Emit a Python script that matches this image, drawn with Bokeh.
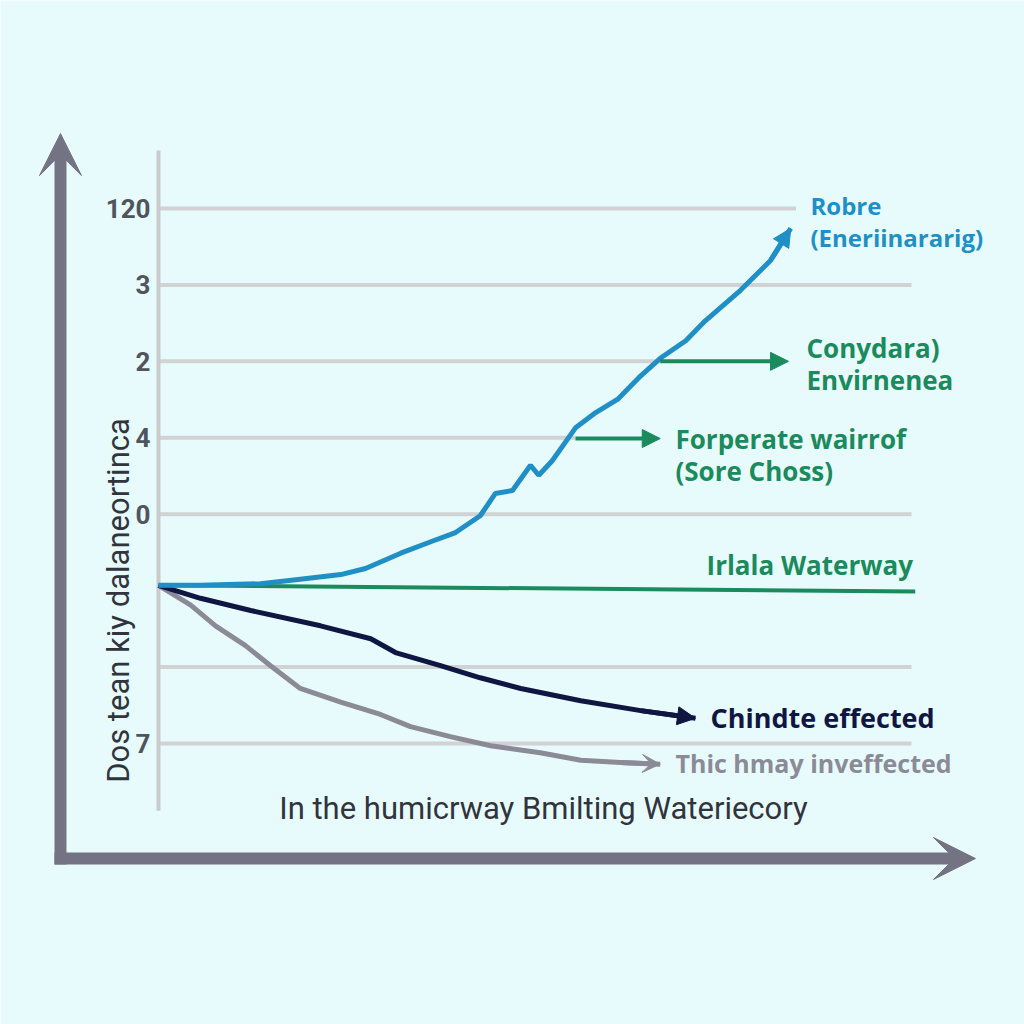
from bokeh.plotting import figure
from bokeh.models import Range1d, Arrow, NormalHead, VeeHead
from bokeh.core.properties import value
from bokeh.embed import file_html
from bokeh.resources import INLINE

# ---------------- data ----------------
tick_levels = [7, 6, 5, 4, 3, 1, 0]
tick_labels = ["120", "3", "2", "4", "0", "", "7"]
grid_levels = [7, 6, 5, 4, 3, 1, 0]
grid_ends = [8.5, 10.04, 6.69, 5.56, 10.04, 10.04, 10.04]

robre_t = [0, 0.56, 1.36, 1.89, 2.43, 2.76, 3.23, 3.63, 3.96, 4.29, 4.49, 4.72,
           4.96, 5.07, 5.25, 5.56, 5.83, 6.13, 6.43, 6.69, 7.03, 7.29, 7.76, 8.16, 8.43]
robre_v = [2.07, 2.07, 2.09, 2.15, 2.21, 2.29, 2.49, 2.64, 2.76, 2.98, 3.27, 3.31,
           3.64, 3.51, 3.70, 4.13, 4.33, 4.51, 4.81, 5.04, 5.27, 5.53, 5.93, 6.32, 6.74]

water_t = [0, 10.09]
water_v = [2.07, 1.99]

chind_t = [0, 0.56, 1.23, 2.16, 2.83, 3.16, 3.76, 4.29, 4.83, 5.63, 6.43, 7.16]
chind_v = [2.07, 1.90, 1.74, 1.54, 1.37, 1.19, 1.02, 0.86, 0.72, 0.56, 0.43, 0.33]

thic_t = [0, 0.43, 0.76, 1.16, 1.49, 1.89, 2.43, 2.96, 3.36, 3.89, 4.43, 5.09, 5.63, 6.16, 6.69]
thic_v = [2.07, 1.81, 1.54, 1.28, 1.02, 0.72, 0.54, 0.38, 0.22, 0.09, -0.03, -0.12, -0.22, -0.25, -0.27]

# green pointer arrows (level, start, end)
ptr_levels = [5.0, 3.99]
ptr_start = [6.69, 5.56]
ptr_end = [8.40, 6.69]

# ---------------- styling ----------------
BG = "#e8fbfc"
BLUE = "#1f8fc6"
GREEN = "#1b8a5c"
NAVY = "#0f1642"
GRAY = "#8b8b97"
AXIS = "#737383"
GRID = "#d0d2d3"
TXT = "#30343c"

p = figure(width=1024, height=1024, output_backend="svg", toolbar_location=None,
           x_range=Range1d(-2.1067, 11.5467), y_range=Range1d(-3.6766, 9.7213),
           min_border=0, background_fill_color=BG, border_fill_color=BG)
p.axis.visible = False
p.grid.visible = False
p.outline_line_color = None

# gridlines
p.segment(x0=[0] * len(grid_levels), y0=grid_levels, x1=grid_ends, y1=grid_levels,
          line_color=GRID, line_width=4)
# thin axis line
p.segment(x0=[0], y0=[7.76], x1=[0], y1=[-0.88], line_color="#c9cbcc", line_width=4)

# big axes arrows
p.add_layout(Arrow(x_start=-1.307, y_start=-1.583, x_end=-1.307, y_end=7.98,
                   line_color=AXIS, line_width=12,
                   end=VeeHead(size=42, fill_color=AXIS, line_color=AXIS, line_width=1)))
p.add_layout(Arrow(x_start=-1.387, y_start=-1.505, x_end=10.893, y_end=-1.505,
                   line_color=AXIS, line_width=12,
                   end=VeeHead(size=42, fill_color=AXIS, line_color=AXIS, line_width=1)))

# series
p.line(thic_t, thic_v, line_color=GRAY, line_width=5)
p.add_layout(Arrow(x_start=thic_t[-2], y_start=thic_v[-2], x_end=thic_t[-1], y_end=thic_v[-1],
                   line_color=GRAY, line_width=5,
                   end=VeeHead(size=18, fill_color=GRAY, line_color=GRAY, line_width=1)))
p.line(chind_t, chind_v, line_color=NAVY, line_width=5)
p.add_layout(Arrow(x_start=chind_t[-2], y_start=chind_v[-2], x_end=chind_t[-1], y_end=chind_v[-1],
                   line_color=NAVY, line_width=5,
                   end=NormalHead(size=18, fill_color=NAVY, line_color=NAVY, line_width=1)))
p.line(water_t, water_v, line_color=GREEN, line_width=4)
p.line(robre_t, robre_v, line_color=BLUE, line_width=5)
p.add_layout(Arrow(x_start=robre_t[-2], y_start=robre_v[-2], x_end=robre_t[-1], y_end=robre_v[-1],
                   line_color=BLUE, line_width=5,
                   end=NormalHead(size=18, fill_color=BLUE, line_color=BLUE, line_width=1)))
for lv, s, e in zip(ptr_levels, ptr_start, ptr_end):
    p.add_layout(Arrow(x_start=s, y_start=lv, x_end=e, y_end=lv,
                       line_color=GREEN, line_width=4,
                       end=NormalHead(size=18, fill_color=GREEN, line_color=GREEN, line_width=1)))

# tick labels
p.text(x=[-0.107] * len(tick_levels), y=tick_levels, text=tick_labels,
       text_font=value("Roboto"), text_font_style="bold", text_font_size="26px",
       text_color="#50545e", text_align="right", text_baseline="middle")

# axis titles
p.text(x=[-0.533], y=[1.871], text=["Dos tean kiy dalaneortinca"], angle=1.5708,
       text_font=value("Roboto"), text_font_size="31px", text_color=TXT,
       text_align="center", text_baseline="middle")
p.text(x=[5.133], y=[-0.85], text=["In the humicrway Bmilting Wateriecory"],
       text_font=value("Roboto"), text_font_size="31px", text_color=TXT,
       text_align="center", text_baseline="middle")

# series labels
def lab(x, y, t, c, size="26px", style="bold"):
    p.text(x=[x], y=[y], text=[t], text_font=value("Open Sans"), text_font_style=style,
           text_font_size=size, text_color=c, text_align="left", text_baseline="middle")

lab(8.693, 7.04, "Robre", BLUE, size="24px")
lab(8.693, 6.62, "(Eneriinararig)", BLUE, size="24px")
lab(8.64, 5.18, "Conydara)", GREEN)
lab(8.64, 4.76, "Envirnenea", GREEN)
lab(6.893, 3.98, "Forperate wairrof", GREEN)
lab(6.893, 3.57, "(Sore Choss)", GREEN)
lab(7.307, 2.34, "Irlala Waterway", GREEN)
lab(7.36, 0.34, "Chindte effected", NAVY, size="27px")
lab(6.893, -0.26, "Thic hmay inveffected", GRAY, size="25px")

open("out.html", "w").write(file_html(p, INLINE))
